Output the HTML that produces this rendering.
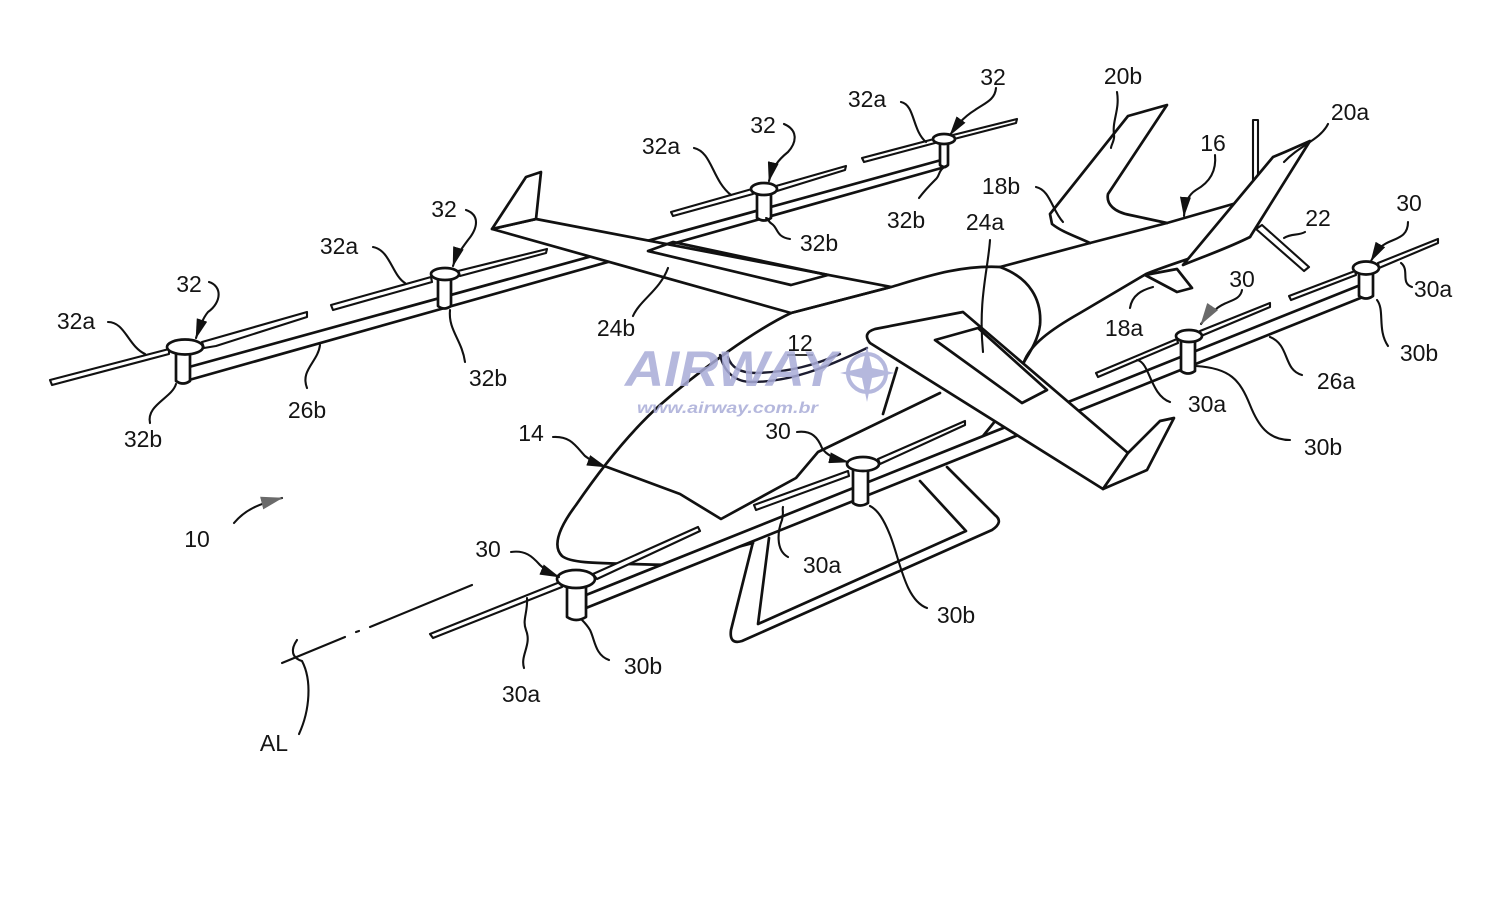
<!DOCTYPE html>
<html><head><meta charset="utf-8">
<style>
html,body{margin:0;padding:0;background:#fff;}
svg{display:block;}
text{font-family:"Liberation Sans",Arial,sans-serif;font-size:23px;fill:#141414;}
</style></head><body>
<svg width="1500" height="900" viewBox="0 0 1500 900" xmlns="http://www.w3.org/2000/svg">
<defs>
<marker id="ah" viewBox="0 0 20 11" refX="19" refY="5.5" markerWidth="20" markerHeight="11" markerUnits="userSpaceOnUse" orient="auto"><path d="M0,0 L20,5.5 L0,11 z" fill="#111"/></marker>
<marker id="ag" viewBox="0 0 22 13" refX="21" refY="6.5" markerWidth="22" markerHeight="13" markerUnits="userSpaceOnUse" orient="auto"><path d="M0,0 L22,6.5 L0,13 z" fill="#6a6a6a"/></marker>
</defs>
<rect width="1500" height="900" fill="#fff"/>

<g fill="#fff" stroke="#111" stroke-width="2.7" stroke-linejoin="round" stroke-linecap="round">
<!-- rear boom 26b -->
<polygon points="189,367 945,159 945,167 189,380"/>
<!-- rear rotors blades -->
<g stroke-width="2.1">
<polygon points="169,349 50,380 52,385 169,354"/>
<polygon points="202,342 307,312 307,317 216,346 204,348"/>
<polygon points="431,277 331,305 333,310 432,282"/>
<polygon points="458,271 547,249 546,253 460,276"/>
<polygon points="752,189 671,212 673,216 753,194"/>
<polygon points="776,186 846,166 845,170 777,191"/>
<polygon points="934,139 862,158 864,162 935,143"/>
<polygon points="953,135 1017,119 1016,123 954,139"/>
</g>
<!-- rear masts -->
<path d="M176 348 L176 381 Q183 386 190 381 L190 348 Z"/>
<path d="M438 274 L438 306 Q444 311 451 306 L451 274 Z"/>
<path d="M757 189 L757 218 Q764 223 771 218 L771 189 Z"/>
<path d="M940 139 L940 165 Q944 169 948 165 L948 139 Z"/>
<!-- rear hubs -->
<ellipse cx="185" cy="347" rx="18" ry="7.5"/>
<ellipse cx="445" cy="274" rx="14" ry="6"/>
<ellipse cx="764" cy="189" rx="13" ry="6"/>
<ellipse cx="944" cy="139" rx="11" ry="5"/>

<!-- wing 24b -->
<polygon points="492,229 536,219 891,287 791,313"/>
<polygon points="492,229 526,177 541,172 536,219"/>
<polygon points="648,251 673,242 828,275 791,285" fill="none"/>

<!-- fin 20b -->
<path d="M1090 243 C1075 236 1062 232 1052 224 L1050 214 L1128 116 L1167 105 L1108 194 C1106 204 1114 212 1130 215 L1167 223" fill="none"/>
<!-- rod -->
<path d="M1253 180 L1253 120 L1258 120 L1258 177" fill="none" stroke-width="2.1"/>

<!-- fuselage -->
<g fill="none">
<path d="M791 313 C755 330 700 370 660 405 C630 432 600 470 576 505 C561 525 551 545 562 556 C572 564 600 563 667 565"/>
<path d="M700 557 L753 543"/>
<path d="M791 313 L891 287 C925 277 960 265 1000 267 L1090 243 L1167 223 L1233 204"/>
<path d="M1000 267 C1030 278 1042 300 1040 325 C1038 340 1030 352 1024 362"/>
<path d="M1024 362 C1030 345 1050 330 1080 313 L1146 274 C1170 264 1200 256 1250 237"/>
<path d="M607 467 L680 494 L721 519 L796 478 L818 452 L940 393"/>
<path d="M897 368 L883 414"/>
<path d="M983 436 L996 420"/>
</g>
<!-- fin 20a -->
<path d="M1183 265 L1273 157 L1285 152 L1310 141 L1250 237 C1228 248 1205 256 1183 265 Z"/>
<!-- ventral 22 -->
<polygon points="1256,229 1262,225 1309,267 1304,271" stroke-width="2.1"/>
<!-- 18a -->
<polygon points="1145,275 1177,292 1192,288 1177,269"/>

<!-- skid -->
<g fill="none">
<path d="M753 542 L731 630 Q729 645 742 641 L992 530 Q1004 522 995 515 L947 467"/>
<path d="M769 538 L758 624 L966 531 L920 481"/>
</g>

<!-- front boom 26a -->
<polygon points="586,595 1363,284 1363,297 586,608"/>
<!-- front rotor blades -->
<g stroke-width="2.1">
<polygon points="560,582 430,634 433,638 562,587"/>
<polygon points="593,574 698,527 700,531 597,579"/>
<polygon points="848,471 754,505 756,510 849,476"/>
<polygon points="878,459 965,421 965,425 880,464"/>
<polygon points="1177,339 1096,373 1098,377 1178,343"/>
<polygon points="1200,331 1270,303 1270,307 1201,336"/>
<polygon points="1355,271 1289,296 1291,300 1356,275"/>
<polygon points="1378,263 1438,239 1438,243 1379,268"/>
</g>
<!-- front masts -->
<path d="M567 580 L567 617 Q576 623 586 617 L586 580 Z"/>
<path d="M853 465 L853 503 Q860 508 868 503 L868 465 Z"/>
<path d="M1181 336 L1181 371 Q1188 376 1195 371 L1195 336 Z"/>
<path d="M1359 268 L1359 296 Q1366 301 1373 296 L1373 268 Z"/>
<!-- front hubs -->
<ellipse cx="576" cy="579" rx="19" ry="9"/>
<ellipse cx="863" cy="464" rx="16" ry="7"/>
<ellipse cx="1189" cy="336" rx="13" ry="6"/>
<ellipse cx="1366" cy="268" rx="13" ry="6.5"/>

<!-- main wing 24a -->
<path d="M963 312 L875 329 Q862 333 870 343 L1103 489 L1128 453 Z"/>
<polygon points="1128,453 1160,421 1174,418 1147,470 1103,489"/>
<polygon points="935,340 978,328 1047,390 1022,403" fill="none"/>

<!-- cockpit curves 12 -->
<g fill="none" stroke="#1c1c30" stroke-width="2.4">
<path d="M720 355 C724 372 735 382 752 382 C790 382 825 368 867 348"/>
<path d="M728 357 C731 367 740 373 756 373 C790 372 815 365 840 354"/>
</g>
</g>

<!-- axis AL -->
<g stroke="#111" stroke-width="2.1" fill="none" stroke-linecap="round">
<path d="M282 663 L345 637"/>
<path d="M356 632 L359 631"/>
<path d="M370 627 L472 585"/>
</g>

<!-- leaders -->
<g fill="none" stroke="#111" stroke-width="2.1" stroke-linecap="round">
<path d="M108 322 C125 322 128 346 145 354"/>
<path d="M209 282 C222 286 222 302 208 312 C203 318 200 326 196 338" marker-end="url(#ah)"/>
<path d="M150 423 C146 405 172 398 176 384"/>
<path d="M307 388 C300 370 318 362 320 345"/>
<path d="M373 247 C390 250 392 275 405 283"/>
<path d="M466 210 C480 215 478 228 468 240 C462 248 456 256 453 266" marker-end="url(#ah)"/>
<path d="M465 362 C462 340 448 330 450 310"/>
<path d="M633 316 C640 300 660 290 668 268"/>
<path d="M694 148 C712 152 712 180 731 195"/>
<path d="M784 124 C798 130 797 142 788 152 C778 160 772 168 769 181" marker-end="url(#ah)"/>
<path d="M790 239 C776 237 778 228 772 224 C767 221 769 218 766 218"/>
<path d="M901 102 C915 105 912 130 926 142"/>
<path d="M996 88 C995 100 985 103 975 110 C962 118 955 128 950 135" marker-end="url(#ah)"/>
<path d="M919 198 C925 190 930 185 935 180 C940 176 938 172 943 168"/>
<path d="M1036 187 C1050 190 1052 210 1063 222"/>
<path d="M1117 92 C1120 110 1112 120 1114 135 C1115 140 1111 145 1111 148"/>
<path d="M1215 155 C1217 175 1205 185 1196 190 C1188 195 1185 203 1184 216" marker-end="url(#ah)"/>
<path d="M1328 124 C1320 140 1300 145 1284 162"/>
<path d="M1305 232 C1298 236 1292 233 1284 238"/>
<path d="M1408 222 C1408 238 1395 238 1385 244 C1378 248 1375 254 1371 261" marker-end="url(#ah)"/>
<path d="M1401 263 C1410 270 1400 283 1412 287"/>
<path d="M1377 300 C1385 310 1377 330 1388 346"/>
<path d="M1270 337 C1290 345 1283 370 1302 375"/>
<path d="M1137 360 C1150 362 1150 395 1170 402"/>
<path d="M1196 366 C1230 368 1240 380 1250 405 C1258 425 1268 440 1290 440"/>
<path d="M1242 290 C1240 302 1225 300 1215 310 C1210 315 1205 318 1201 324" marker-end="url(#ag)"/>
<path d="M1130 308 C1132 295 1142 290 1153 287"/>
<path d="M990 240 C988 270 978 300 983 352"/>
<path d="M553 437 C570 436 575 445 585 456 C590 460 598 464 606 467" marker-end="url(#ah)"/>
<path d="M234 523 C245 510 258 504 282 498" marker-end="url(#ag)"/>
<path d="M511 552 C525 550 532 556 540 565 C545 570 552 574 559 577" marker-end="url(#ah)"/>
<path d="M524 668 C520 655 532 645 526 630 C522 620 528 612 527 598"/>
<path d="M609 660 C595 655 595 640 590 630 C587 625 584 622 582 620"/>
<path d="M797 432 C812 430 818 438 822 448 C826 455 835 459 848 462" marker-end="url(#ah)"/>
<path d="M788 557 C775 550 778 530 782 520 C784 512 782 510 783 507"/>
<path d="M927 608 C905 600 900 560 890 535 C884 520 878 510 870 506"/>
<path d="M297 640 C290 650 292 658 302 661 C312 680 310 710 299 734"/>
</g>

<!-- labels -->
<g text-anchor="middle">
<text x="993" y="85">32</text>
<text x="1123" y="84">20b</text>
<text x="867" y="107">32a</text>
<text x="763" y="133">32</text>
<text x="1350" y="120">20a</text>
<text x="661" y="154">32a</text>
<text x="1213" y="151">16</text>
<text x="1001" y="194">18b</text>
<text x="1409" y="211">30</text>
<text x="444" y="217">32</text>
<text x="906" y="228">32b</text>
<text x="985" y="230">24a</text>
<text x="1318" y="226">22</text>
<text x="819" y="251">32b</text>
<text x="339" y="254">32a</text>
<text x="1242" y="287">30</text>
<text x="189" y="292">32</text>
<text x="1433" y="297">30a</text>
<text x="1124" y="336">18a</text>
<text x="616" y="336">24b</text>
<text x="800" y="351">12</text>
<text x="76" y="329">32a</text>
<text x="1419" y="361">30b</text>
<text x="488" y="386">32b</text>
<text x="1336" y="389">26a</text>
<text x="307" y="418">26b</text>
<text x="1207" y="412">30a</text>
<text x="531" y="441">14</text>
<text x="778" y="439">30</text>
<text x="143" y="447">32b</text>
<text x="1323" y="455">30b</text>
<text x="197" y="547">10</text>
<text x="488" y="557">30</text>
<text x="822" y="573">30a</text>
<text x="956" y="623">30b</text>
<text x="643" y="674">30b</text>
<text x="521" y="702">30a</text>
<text x="274" y="751">AL</text>
</g>
<line x1="787" y1="355" x2="813" y2="355" stroke="#141414" stroke-width="1.8"/>

<!-- watermark -->
<g opacity="0.85">
<text x="625" y="386" style="font-size:50px;font-weight:bold;font-style:italic;fill:#a9acd8" textLength="212" lengthAdjust="spacingAndGlyphs">AIRWAY</text>
<text x="637" y="413" style="font-size:16px;font-weight:bold;font-style:italic;fill:#a9acd8" textLength="181" lengthAdjust="spacingAndGlyphs">www.airway.com.br</text>
<circle cx="867" cy="373" r="19" fill="none" stroke="#a9acd8" stroke-width="4"/>
<polygon points="867,346 872,368 895,373 872,378 867,402 862,378 840,373 862,368" fill="#a9acd8"/>
</g>
</svg>
</body></html>
